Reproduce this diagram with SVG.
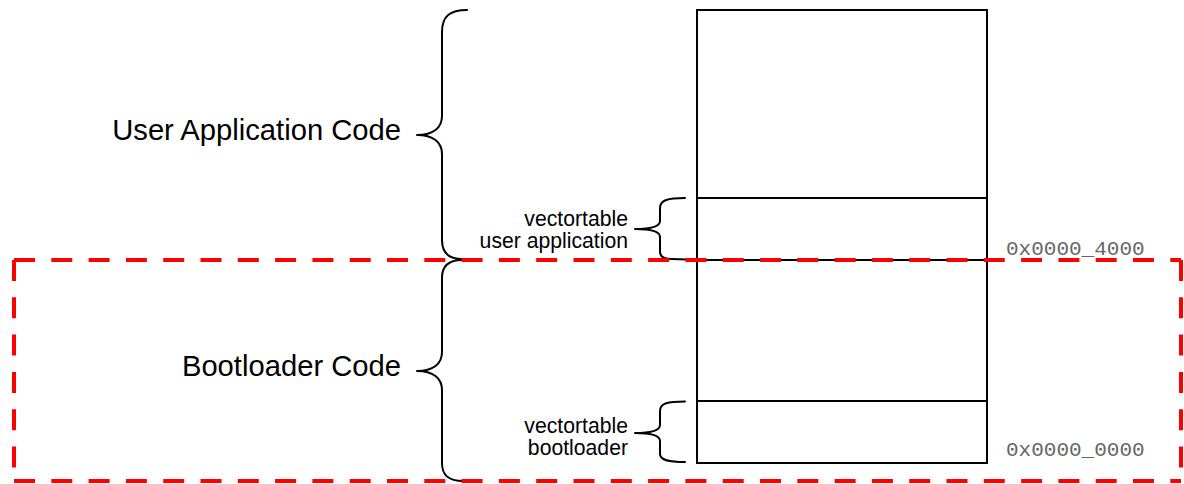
<svg xmlns="http://www.w3.org/2000/svg" width="1184" height="484" viewBox="0 0 1184 484">
  <style>
    .box { fill: none; stroke: #000; stroke-width: 2; }
    .brace { fill: none; stroke: #000; stroke-width: 2; stroke-linecap: round; stroke-linejoin: round; }
    .big { font-family: "Liberation Sans", Arial, sans-serif; font-size: 29.2px; fill: #000; text-anchor: end; }
    .small { font-family: "Liberation Sans", Arial, sans-serif; font-size: 21.2px; fill: #000; text-anchor: end; }
    .addr { font-family: "Liberation Mono", "Courier New", monospace; font-size: 21px; fill: #666; }
    .region { fill: none; stroke: #ff0000; stroke-width: 4; stroke-dasharray: 21 16.3; }
  </style>

  <!-- memory map column -->
  <g id="memory-map">
    <rect class="box" x="697" y="10" width="290" height="453"/>
    <line class="box" x1="697" y1="198" x2="987" y2="198"/>
    <line class="box" x1="697" y1="260" x2="987" y2="260"/>
    <line class="box" x1="697" y1="401" x2="987" y2="401"/>
  </g>

  <!-- upper section brace and label -->
  <g id="user-application">
    <path class="brace" d="M467,10 C450,10 442,16 442,32 L442,116 C442,128 433,135 417,135 C433,135 442,142 442,154 L442,240 C442,252 448,259 462,259"/>
    <text class="big" x="401" y="140">User Application Code</text>
  </g>

  <!-- lower section brace and label -->
  <g id="bootloader">
    <path class="brace" d="M462,260 C448,260 442,266 442,278 L442,352 C442,364 433,371 417,371 C433,371 442,378 442,390 L442,463 C442,475 448,481 463,481"/>
    <text class="big" x="401" y="376">Bootloader Code</text>
  </g>

  <!-- vector table of the user application -->
  <g id="vectortable-user">
    <path class="brace" d="M685,198 C668,198 660,200 660,208 L660,221 C660,227 650,229 635,229 C650,229 660,231 660,237 L660,252 C660,257 664,259 672,259 L687,259.5"/>
    <text class="small" x="628" y="226">vectortable</text>
    <text class="small" x="628" y="247.5">user application</text>
  </g>

  <!-- vector table of the bootloader -->
  <g id="vectortable-boot">
    <path class="brace" d="M685,401.5 C668,401.5 660,403 660,411 L660,425 C660,431 650,433 635,433 C650,433 660,435 660,441 L660,454 C660,460 668,462 685,462"/>
    <text class="small" x="628" y="433">vectortable</text>
    <text class="small" x="628" y="454.5">bootloader</text>
  </g>

  <!-- addresses -->
  <g id="addresses">
    <text class="addr" x="1006" y="255">0x0000_4000</text>
    <text class="addr" x="1006" y="456">0x0000_0000</text>
  </g>

  <!-- dashed outline around the bootloader region -->
  <g id="bootloader-region">
    <path class="region" d="M14,260 H1181"/>
    <path class="region" d="M14,260 V481"/>
    <path class="region" d="M14,481 H1181"/>
    <path class="region" d="M1181,260 V481"/>
  </g>
</svg>
